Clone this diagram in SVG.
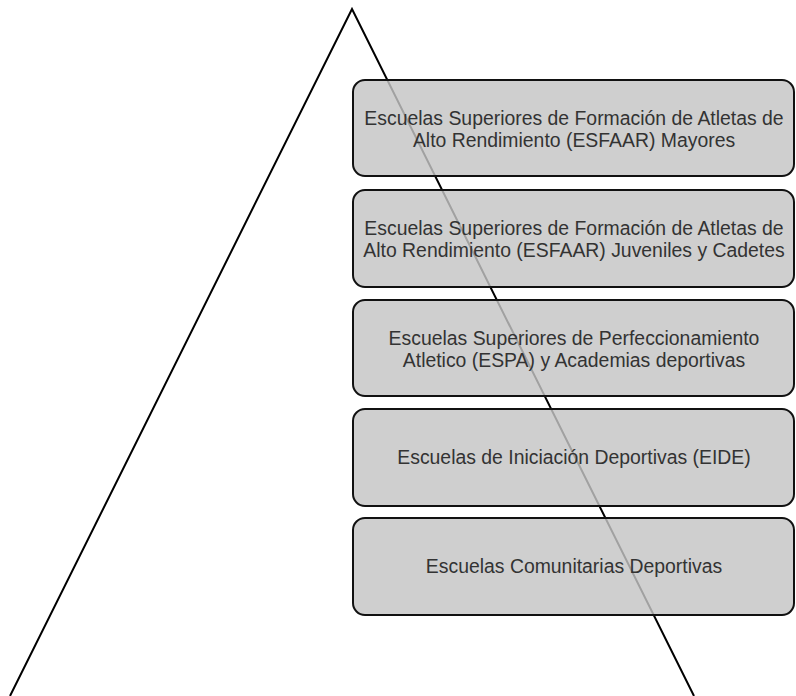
<svg xmlns="http://www.w3.org/2000/svg" width="796" height="696" viewBox="0 0 796 696">
<style>
.box{fill:#c4c4c4;fill-opacity:0.82;stroke:#111;stroke-width:2}
.t{font-family:"Liberation Sans",Arial,sans-serif;font-size:19.4px;fill:#333;text-anchor:middle}
.tri{fill:none;stroke:#000;stroke-width:2}
</style>
<rect width="796" height="696" fill="#fff"/>
<g id="connectors">
<polyline class="tri" points="10,696 352,9 694,696"/>
</g>
<g id="n1"><rect class="box" x="353" y="80" width="441" height="96" rx="12"/>
<text class="t" x="574" y="125">Escuelas Superiores de Formación de Atletas de</text>
<text class="t" x="574" y="147">Alto Rendimiento (ESFAAR) Mayores</text></g>
<g id="n2"><rect class="box" x="353" y="190" width="441" height="97" rx="12"/>
<text class="t" x="574" y="235">Escuelas Superiores de Formación de Atletas de</text>
<text class="t" x="574" y="257">Alto Rendimiento (ESFAAR) Juveniles y Cadetes</text></g>
<g id="n3"><rect class="box" x="353" y="300" width="441" height="96" rx="12"/>
<text class="t" x="574" y="345">Escuelas Superiores de Perfeccionamiento</text>
<text class="t" x="574" y="367">Atletico (ESPA) y Academias deportivas</text></g>
<g id="n4"><rect class="box" x="353" y="409" width="441" height="97" rx="12"/>
<text class="t" x="574" y="464">Escuelas de Iniciación Deportivas (EIDE)</text></g>
<g id="n5"><rect class="box" x="353" y="518" width="441" height="97" rx="12"/>
<text class="t" x="574" y="573">Escuelas Comunitarias Deportivas</text></g>
</svg>
